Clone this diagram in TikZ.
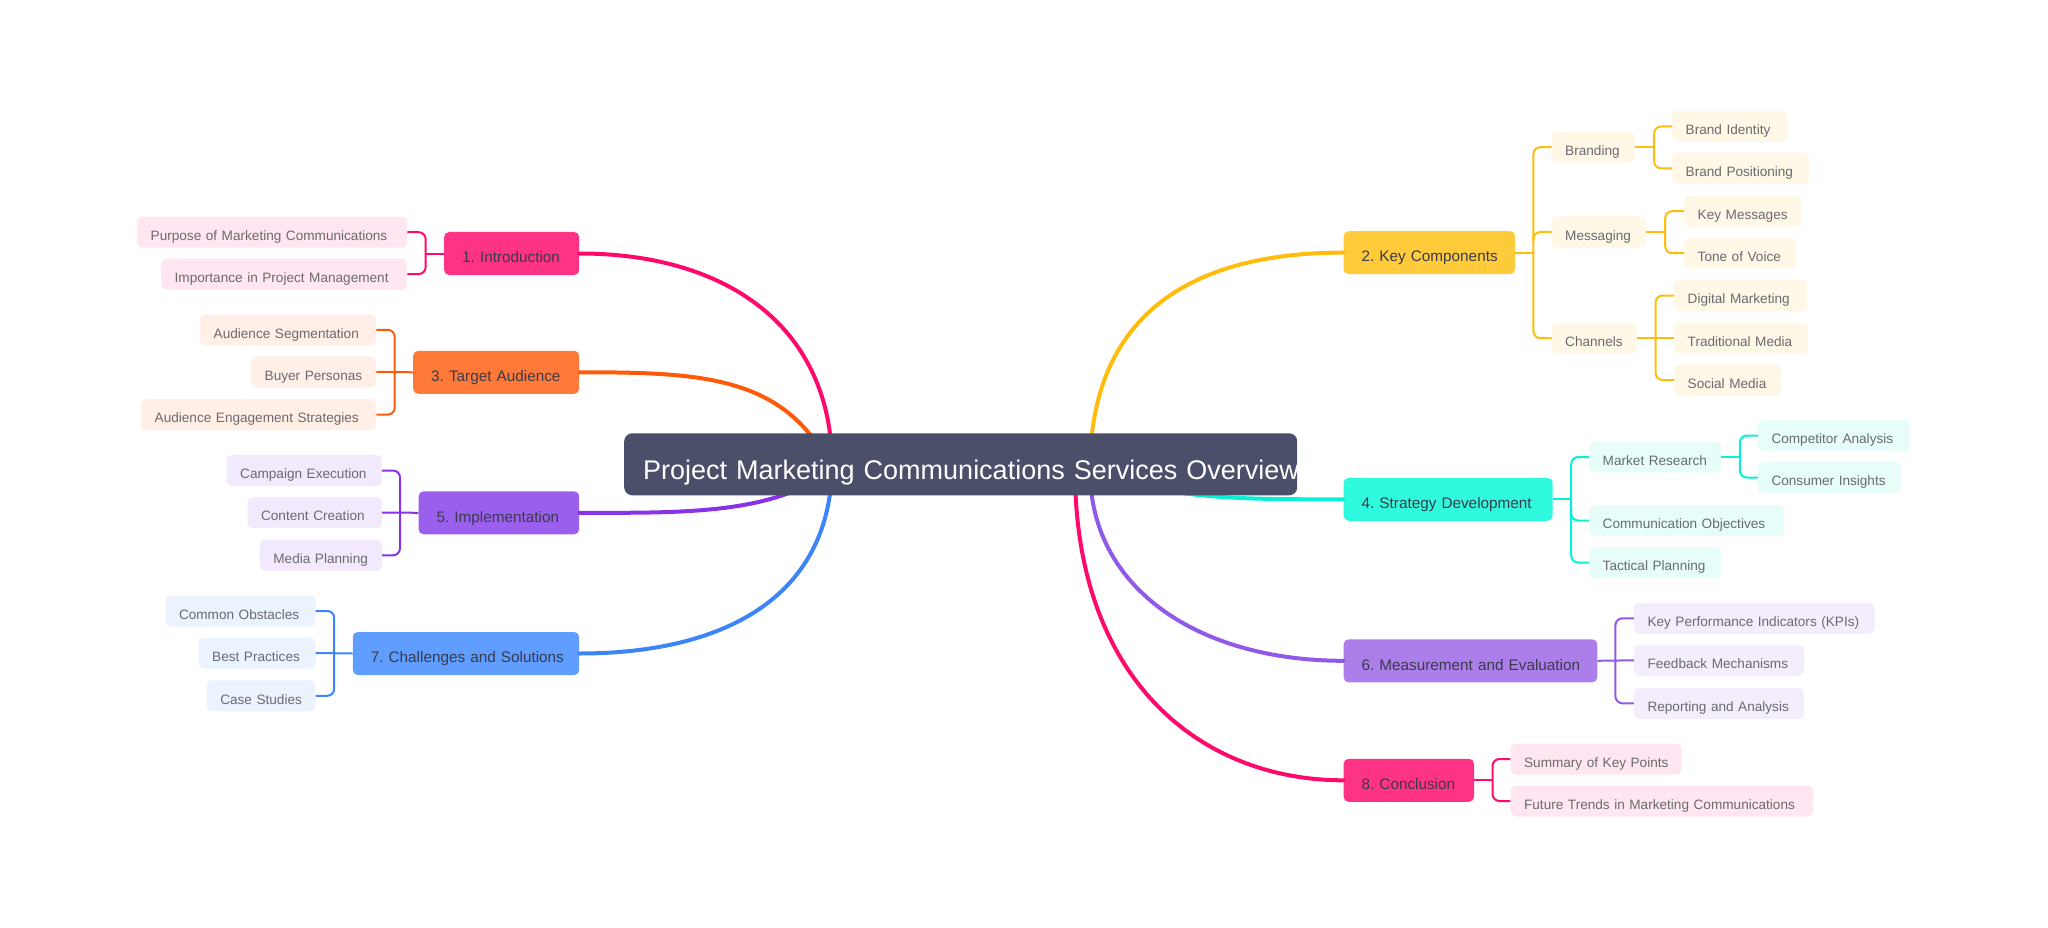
\documentclass[tikz,border=0pt]{standalone}
\usepackage{fontspec}
\setmainfont{Liberation Sans}
\usepackage{xcolor}
\frenchspacing
\definecolor{rootfill}{HTML}{4C4F69}
\definecolor{mainink}{HTML}{3A3A4A}
\definecolor{leafink}{HTML}{6A6A70}
\definecolor{pinkfill}{HTML}{FF3385}
\definecolor{pinkline}{HTML}{FF0A6C}
\definecolor{pinktint}{HTML}{FFE6F0}
\definecolor{orangefill}{HTML}{FF7A38}
\definecolor{orangeline}{HTML}{FF5A0A}
\definecolor{orangetint}{HTML}{FFEFE6}
\definecolor{violetfill}{HTML}{9B5FEE}
\definecolor{violetline}{HTML}{8A32E8}
\definecolor{violettint}{HTML}{F2EAFC}
\definecolor{bluefill}{HTML}{5F9DFF}
\definecolor{blueline}{HTML}{3B85F8}
\definecolor{bluetint}{HTML}{EBF3FF}
\definecolor{yellowfill}{HTML}{FFCB3B}
\definecolor{yellowline}{HTML}{FFBC0A}
\definecolor{yellowtint}{HTML}{FFF8E6}
\definecolor{tealfill}{HTML}{30FADD}
\definecolor{tealline}{HTML}{0AF0D2}
\definecolor{tealtint}{HTML}{E6FDFA}
\definecolor{lilacfill}{HTML}{AB7EEA}
\definecolor{lilacline}{HTML}{9159E8}
\definecolor{lilactint}{HTML}{F3EDFC}
\tikzset{
  oneline/.style={execute at begin node={\hbox\bgroup}, execute at end node={\egroup}},
  leaf/.style={oneline, rounded corners=5pt, anchor=west, inner xsep=13.5pt, inner ysep=0pt, minimum height=31pt,
    font=\fontsize{13.6}{17}\selectfont, text=leafink, align=left, text height=19.5pt, text depth=3pt},
  leafw/.style={text width=\dimexpr #1pt-27pt\relax},
  branch/.style={oneline, rounded corners=5pt, anchor=west, inner xsep=18pt, inner ysep=0pt, minimum height=43pt,
    font=\fontsize{15.3}{19}\selectfont, text=mainink, align=left, text height=21.5pt, text depth=3pt},
  branchw/.style={text width=\dimexpr #1pt-36pt\relax},
  mainlink/.style={line width=4pt, line cap=round},
  twig/.style={line width=2pt},
  elbow/.style={line width=2pt, rounded corners=7pt}
}
\begin{document}
\begin{tikzpicture}[x=1pt,y=-1pt]
    \useasboundingbox (0,0) rectangle (2048,928);

    % branches on the left
    \node[branch, fill=pinkfill, branchw=135](intro) at (444,253.5){1. Introduction};
    \node[branch, fill=orangefill, branchw=166](target) at (413,372.3){3. Target Audience};
    \node[branch, fill=violetfill, branchw=160.6](impl) at (418.4,512.8){5. Implementation};
    \node[branch, fill=bluefill, branchw=226.4](challenges) at (352.6,653.5){7. Challenges and Solutions};

    % branches on the right
    \node[branch, fill=yellowfill, branchw=171.4](key) at (1343.4,252.6){2. Key Components};
    \node[branch, fill=tealfill, branchw=209](strategy) at (1343.4,499.3){4. Strategy Development};
    \node[branch, fill=lilacfill, branchw=253.7](measure) at (1343.4,660.8){6. Measurement and Evaluation};
    \node[branch, fill=pinkfill, branchw=130.4](conclusion) at (1343.4,780.3){8. Conclusion};

    % leaves of 1, 3, 5, 7
    \node[leaf, fill=pinktint, leafw=270](purpose) at (137,232.2){Purpose of Marketing Communications};
    \node[leaf, fill=pinktint, leafw=246](importance) at (161,274){Importance in Project Management};
    \node[leaf, fill=orangetint, leafw=176](segmentation) at (200,329.8){Audience Segmentation};
    \node[leaf, fill=orangetint, leafw=125](personas) at (251,371.8){Buyer Personas};
    \node[leaf, fill=orangetint, leafw=235](engagement) at (141,414.6){Audience Engagement Strategies};
    \node[leaf, fill=violettint, leafw=155](campaign) at (226.5,470.5){Campaign Execution};
    \node[leaf, fill=violettint, leafw=134.2](content) at (247.4,512.5){Content Creation};
    \node[leaf, fill=violettint, leafw=122](media) at (259.7,555.3){Media Planning};
    \node[leaf, fill=bluetint, leafw=150](obstacles) at (165.3,611){Common Obstacles};
    \node[leaf, fill=bluetint, leafw=116.8](practices) at (198.5,653){Best Practices};
    \node[leaf, fill=bluetint, leafw=108.7](studies) at (206.6,695.8){Case Studies};

    % leaves of 2
    \node[leaf, fill=yellowtint, leafw=83.2](branding) at (1551.5,147.2){Branding};
    \node[leaf, fill=yellowtint, leafw=115](identity) at (1672,126.5){Brand Identity};
    \node[leaf, fill=yellowtint, leafw=137](positioning) at (1672,168.3){Brand Positioning};
    \node[leaf, fill=yellowtint, leafw=94.5](messaging) at (1551.5,232){Messaging};
    \node[leaf, fill=yellowtint, leafw=117](keymessages) at (1684,211.2){Key Messages};
    \node[leaf, fill=yellowtint, leafw=111.4](tone) at (1684,253.2){Tone of Voice};
    \node[leaf, fill=yellowtint, leafw=85.5](channels) at (1551.5,338.2){Channels};
    \node[leaf, fill=yellowtint, leafw=132.6](digital) at (1674,295.5){Digital Marketing};
    \node[leaf, fill=yellowtint, leafw=134](traditional) at (1674,338.2){Traditional Media};
    \node[leaf, fill=yellowtint, leafw=106.6](social) at (1674,380){Social Media};

    % leaves of 4, 6, 8
    \node[leaf, fill=tealtint, leafw=132](research) at (1589,457){Market Research};
    \node[leaf, fill=tealtint, leafw=152.2](competitor) at (1757.8,435.6){Competitor Analysis};
    \node[leaf, fill=tealtint, leafw=143.2](insights) at (1757.8,477.6){Consumer Insights};
    \node[leaf, fill=tealtint, leafw=195](objectives) at (1589,520.6){Communication Objectives};
    \node[leaf, fill=tealtint, leafw=132](tactical) at (1589,562.6){Tactical Planning};
    \node[leaf, fill=lilactint, leafw=240.5](kpi) at (1633.8,618.3){Key Performance Indicators (KPIs)};
    \node[leaf, fill=lilactint, leafw=170](feedback) at (1633.8,660.3){Feedback Mechanisms};
    \node[leaf, fill=lilactint, leafw=170](reporting) at (1633.8,703.3){Reporting and Analysis};
    \node[leaf, fill=pinktint, leafw=171](summary) at (1510.4,759){Summary of Key Points};
    \node[leaf, fill=pinktint, leafw=302.6](trends) at (1510.4,801){Future Trends in Marketing Communications};

    % thick curves, they go on under the centre box
    \coordinate (hubleft) at (832,470);
    \coordinate (hubright) at (1090,470);
    \coordinate (hublow) at (1075,470);
    \draw[mainlink, pinkline] (intro.east) .. controls +(151,0) and +(2,-140) .. (hubleft);
    \draw[mainlink, orangeline] (target.east) .. controls +(121,0) and +(-45,-95) .. (hubleft);
    \draw[mainlink, violetline] (impl.east) .. controls +(101,0) and +(-60,45) .. (hubleft);
    \draw[mainlink, blueline] (challenges.east) .. controls +(141,0) and +(-4,130) .. (hubleft);
    \draw[mainlink, yellowline] (key.west) .. controls +(-133,0) and +(0,-170) .. (hubright);
    \draw[mainlink, tealline] (strategy.west) .. controls +(-103,0) and +(80,30) .. (hubright);
    \draw[mainlink, lilacline] (measure.west) .. controls +(-143,0) and +(0,120) .. (hubright);
    \draw[mainlink, pinkline] (conclusion.west) .. controls +(-143,0) and +(0,210) .. (hublow);

    % centre box, its text is cut off by the right edge
    \begin{scope}
        \clip (624,433) rectangle (1297,496);
        \node[rounded corners=8pt, anchor=west, fill=rootfill, text=white, inner xsep=19pt, inner ysep=0pt, minimum height=62pt,
            font=\fontsize{27}{32}\selectfont, align=left, text width=635pt, text height=36pt, text depth=6pt](root) at (624,464.3){\mbox{Project Marketing Communications Services Overview}};
    \end{scope}

    % small links on the left
    \draw[twig, pinkline] (intro.west) -- ++(-18.3,0) coordinate (jointintro);
    \draw[elbow, pinkline] (purpose.east) -| (jointintro) |- (importance.east);
    \draw[twig, orangeline] (target.west) -- (personas.east);
    \draw[elbow, orangeline] (segmentation.east) -| (394.7,372) |- (engagement.east);
    \draw[twig, violetline] (impl.west) -- (content.east);
    \draw[elbow, violetline] (campaign.east) -| (400,512) |- (media.east);
    \draw[twig, blueline] (challenges.west) -- (practices.east);
    \draw[elbow, blueline] (obstacles.east) -| (334.2,653) |- (studies.east);

    % small links on the right
    \draw[twig, yellowline] (key.east) -- ++(18.2,0) coordinate (jointkey);
    \draw[elbow, yellowline] (branding.west) -| (jointkey) |- (channels.west);
    \draw[elbow, yellowline] (jointkey) ++(0,-12) |- (messaging.west);
    \draw[twig, yellowline] (branding.east) -- ++(19,0) coordinate (jointbranding);
    \draw[elbow, yellowline] (identity.west) -| (jointbranding) |- (positioning.west);
    \draw[twig, yellowline] (messaging.east) -- ++(18.8,0) coordinate (jointmessaging);
    \draw[elbow, yellowline] (keymessages.west) -| (jointmessaging) |- (tone.west);
    \draw[twig, yellowline] (channels.east) -- (traditional.west);
    \draw[elbow, yellowline] (digital.west) -| (1655.6,338) |- (social.west);
    \draw[twig, tealline] (strategy.east) -- ++(18.4,0) coordinate (jointstrategy);
    \draw[elbow, tealline] (research.west) -| (jointstrategy) |- (tactical.west);
    \draw[elbow, tealline] (jointstrategy) ++(0,8) |- (objectives.west);
    \draw[twig, tealline] (research.east) -- ++(18.4,0) coordinate (jointresearch);
    \draw[elbow, tealline] (competitor.west) -| (jointresearch) |- (insights.west);
    \draw[twig, lilacline] (measure.east) -- (feedback.west);
    \draw[elbow, lilacline] (kpi.west) -| (1615.4,660) |- (reporting.west);
    \draw[twig, pinkline] (conclusion.east) -- ++(18.3,0) coordinate (jointconclusion);
    \draw[elbow, pinkline] (summary.west) -| (jointconclusion) |- (trends.west);
\end{tikzpicture}
\end{document}
